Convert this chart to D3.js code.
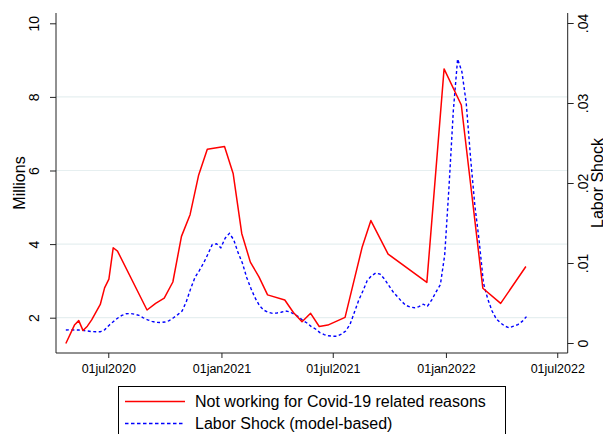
<!DOCTYPE html>
<html>
<head>
<meta charset="utf-8">
<script src="https://cdn.jsdelivr.net/npm/d3@7"></script>
<style>
  body { margin: 0; background: #fff; }
  text { font-family: "Liberation Sans", Arial, sans-serif; fill: #000; }
</style>
</head>
<body>
<script>
'use strict';

const W = 603;
const H = 434;

// survey weeks (red, millions, left axis)
const redDates = [
  '2020-04-23', '2020-05-07', '2020-05-14', '2020-05-21', '2020-05-28', '2020-06-04',
  '2020-06-11', '2020-06-18', '2020-06-25', '2020-07-02', '2020-07-09', '2020-07-16',
  '2020-09-02', '2020-09-16', '2020-09-30', '2020-10-14', '2020-10-28', '2020-11-11',
  '2020-11-25', '2020-12-09', '2021-01-06', '2021-01-20', '2021-02-03', '2021-02-17',
  '2021-03-03', '2021-03-17', '2021-04-14', '2021-04-28', '2021-05-12', '2021-05-26',
  '2021-06-09', '2021-06-23', '2021-07-21', '2021-08-18', '2021-09-01', '2021-09-29',
  '2021-12-01', '2021-12-29', '2022-01-26', '2022-03-02', '2022-03-31', '2022-05-11'
];
const redValues = [
  1.30, 1.80, 1.92, 1.65, 1.77, 1.94,
  2.15, 2.36, 2.81, 3.05, 3.90, 3.81,
  2.21, 2.39, 2.53, 2.97, 4.21, 4.80,
  5.88, 6.58, 6.65, 5.92, 4.29, 3.51,
  3.11, 2.62, 2.48, 2.14, 1.89, 2.12,
  1.76, 1.80, 2.01, 3.93, 4.64, 3.73,
  2.96, 8.76, 7.78, 2.80, 2.39, 3.39
];

// weekly model series (blue, right axis), first week below
const blueStart = '2020-04-23';
const blueValues = [
  .00163, .00165, .00163, .00162, .00158, .00150, .00143, .00140, .00140, .00165,
  .00220, .00265, .00310, .00345, .00365, .00368, .00360, .00345, .00315, .00290,
  .00270, .00258, .00256, .00262, .00280, .00315, .00355, .00400, .00520, .00680,
  .00820, .00905, .01000, .01110, .01230, .01240, .01190, .01310, .01370, .01290,
  .01130, .01000, .00820, .00680, .00560, .00465, .00410, .00385, .00370, .00375,
  .00385, .00400, .00390, .00360, .00330, .00285, .00250, .00205, .00175, .00130,
  .00105, .00090, .00085, .00085, .00110, .00150, .00230, .00380, .00530, .00650,
  .00780, .00840, .00875, .00860, .00800, .00720, .00640, .00580, .00520, .00470,
  .00450, .00440, .00455, .00485, .00460, .00540, .00640, .00730, .01100, .01950,
  .02900, .03550, .03390, .03000, .02320, .01720, .01280, .00750, .00550, .00400,
  .00300, .00250, .00210, .00190, .00210, .00230, .00270, .00330
];

const xTicks = ['2020-07-01', '2021-01-01', '2021-07-01', '2022-01-01', '2022-07-01'];
const leftTicks = [2, 4, 6, 8, 10];
const rightTicks = [0, .01, .02, .03, .04];
const seriesNames = ['Not working for Covid-19 related reasons', 'Labor Shock (model-based)'];

const parse = d3.utcParse('%Y-%m-%d');

const svg = d3.select('body').append('svg').attr('width', W).attr('height', H);

const pLeft = 56, pRight = 567.7, pTop = 13, pBottom = 353;

const x = d3.scaleUtc()
  .domain([parse('2020-04-07'), parse('2022-07-18')])
  .range([pLeft, pRight]);
const yL = d3.scaleLinear().domain([2, 10]).range([317.7, 23.3]);
const yR = d3.scaleLinear().domain([0, .04]).range([343, 23]);

// gridlines (not at the top tick)
svg.append('g')
  .selectAll('line')
  .data(leftTicks.filter(d => d < 10))
  .enter().append('line')
  .attr('x1', pLeft).attr('x2', pRight)
  .attr('y1', d => yL(d)).attr('y2', d => yL(d))
  .attr('stroke', '#e6eff0').attr('stroke-width', 1.2);

// axes
const fmtDate = d => d3.utcFormat('%d%b%Y')(d).toLowerCase();

const gx = svg.append('g').attr('transform', `translate(0,${pBottom})`)
  .call(d3.axisBottom(x).tickValues(xTicks.map(parse)).tickFormat(fmtDate).tickSizeOuter(0).tickSize(5).tickPadding(6));
gx.selectAll('text').attr('font-size', 12.5).attr('font-family', '"Liberation Sans", Arial, sans-serif');

const gl = svg.append('g').attr('transform', `translate(${pLeft},0)`)
  .call(d3.axisLeft(yL).tickValues(leftTicks).tickSizeOuter(0).tickSize(6));
gl.select('.domain').attr('d', `M0,${pTop}V${pBottom}`);
gl.selectAll('text')
  .attr('font-size', 14).attr('font-family', '"Liberation Sans", Arial, sans-serif')
  .attr('text-anchor', 'middle').attr('x', 0).attr('dy', 0)
  .attr('transform', 'translate(-16.7,0) rotate(-90)');

const gr = svg.append('g').attr('transform', `translate(${pRight},0)`)
  .call(d3.axisRight(yR).tickValues(rightTicks)
    .tickFormat(d => d === 0 ? '0' : d3.format('.2f')(d).replace(/^0/, ''))
    .tickSizeOuter(0).tickSize(6));
gr.select('.domain').attr('d', `M0,${pTop}V${pBottom}`);
gr.selectAll('text')
  .attr('font-size', 14).attr('font-family', '"Liberation Sans", Arial, sans-serif')
  .attr('text-anchor', 'middle').attr('x', 0).attr('dy', 0)
  .attr('transform', 'translate(20.3,0) rotate(-90)');

svg.selectAll('.domain').attr('stroke', '#222');
svg.selectAll('.tick line').attr('stroke', '#222');
gx.select('.domain').attr('d', `M${pLeft},0H${pRight}`);

// axis titles
svg.append('text')
  .attr('transform', `translate(25,${(pTop + pBottom) / 2}) rotate(-90)`)
  .attr('text-anchor', 'middle').attr('font-size', 16)
  .text('Millions');
svg.append('text')
  .attr('transform', `translate(603,${(pTop + pBottom) / 2}) rotate(-90)`)
  .attr('text-anchor', 'middle').attr('font-size', 16)
  .text('Labor Shock');

// lines
const redLine = d3.line()
  .x((d, i) => x(parse(redDates[i])))
  .y(d => yL(d));
const blueLine = d3.line()
  .x((d, i) => x(d3.utcDay.offset(parse(blueStart), 7 * i)))
  .y(d => yR(d));

svg.append('path')
  .datum(blueValues)
  .attr('d', blueLine)
  .attr('fill', 'none').attr('stroke', '#0000ff')
  .attr('stroke-width', 1.4).attr('stroke-dasharray', '3,2.5');

svg.append('path')
  .datum(redValues)
  .attr('d', redLine)
  .attr('fill', 'none').attr('stroke', '#ff0000')
  .attr('stroke-width', 1.5).attr('stroke-linejoin', 'round');

// legend
const lg = svg.append('g');
lg.append('rect')
  .attr('x', 118.5).attr('y', 386.5).attr('width', 387).attr('height', 60)
  .attr('fill', '#fff').attr('stroke', '#000').attr('stroke-width', 1);

const rows = lg.selectAll('g.row')
  .data(seriesNames)
  .enter().append('g')
  .attr('class', 'row')
  .attr('transform', (d, i) => `translate(0,${401.5 + i * 22})`);
rows.append('line')
  .attr('x1', 125).attr('x2', 185)
  .attr('stroke', (d, i) => i === 0 ? '#ff0000' : '#0000ff')
  .attr('stroke-width', 1.4)
  .attr('stroke-dasharray', (d, i) => i === 0 ? null : '3.5,2.5');
rows.append('text')
  .attr('x', 195).attr('y', 5.8)
  .attr('font-size', 16)
  .text(d => d);
</script>
</body>
</html>
